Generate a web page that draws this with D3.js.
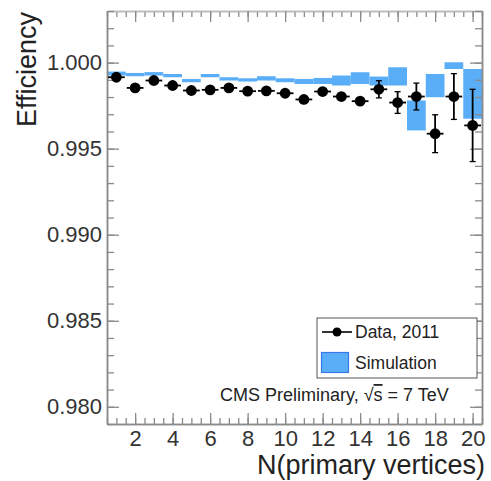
<!DOCTYPE html>
<html><head><meta charset="utf-8">
<script src="https://cdn.jsdelivr.net/npm/d3@7"></script>
<style>
html,body{margin:0;padding:0;background:#fff;}
svg{display:block;font-family:"Liberation Sans",Arial,sans-serif;}
</style></head>
<body>
<svg id="c" width="491" height="481"></svg>
<script>
// ---- data ----
const nPV = [1,2,3,4,5,6,7,8,9,10,11,12,13,14,15,16,17,18,19,20];
const dataEff = [0.99915,0.99853,0.99896,0.99867,0.99838,0.99842,0.99853,0.99834,0.99836,0.99822,
                 0.99786,0.99832,0.99803,0.99776,0.99845,0.99768,0.99803,0.99587,0.99803,0.99635];
const dataErr = [0.00012,0.00010,0.00010,0.00010,0.00010,0.00010,0.00010,0.00010,0.00012,0.00012,
                 0.00014,0.00015,0.00018,0.00025,0.00050,0.00063,0.00078,0.00110,0.00133,0.00210];
const simLow  = [0.99925,0.99921,0.99925,0.99915,0.99886,0.99915,0.99896,0.99890,0.99896,0.99886,
                 0.99876,0.99876,0.99867,0.99876,0.99867,0.99867,0.99606,0.99799,0.99963,0.99674];
const simHigh = [0.99948,0.99940,0.99945,0.99934,0.99905,0.99934,0.99915,0.99909,0.99921,0.99909,
                 0.99905,0.99911,0.99925,0.99944,0.99919,0.99973,0.99780,0.99934,1.00002,0.99963];
const yTickValues = [0.980,0.985,0.990,0.995,1.000];
const yTickLabels = ["0.980","0.985","0.990","0.995","1.000"];
const xTickValues = [2,4,6,8,10,12,14,16,18,20];
const xDomain = [0.5,20.5];
const yDomain = [0.979,1.003];
const legendLabels = ["Data, 2011","Simulation"];
const xTitle = "N(primary vertices)";
const yTitle = "Efficiency";

// ---- layout ----
const L=107, R=482, T=11, B=424;
const svg = d3.select("#c");
const x = d3.scaleLinear().domain(xDomain).range([L,R]);
const y = d3.scaleLinear().domain(yDomain).range([B,T]);
const frameCol = "#8a8a8a";
const blue = "#5aaef7";

// simulation boxes
svg.append("g").selectAll("rect").data(nPV).join("rect")
  .attr("x", d=>x(d-0.5)).attr("width", d=>x(d+0.5)-x(d-0.5))
  .attr("y", (d,i)=>y(simHigh[i])).attr("height",(d,i)=>y(simLow[i])-y(simHigh[i]))
  .attr("fill", blue);

// axes
const minorY = d3.range(0.979,1.0031,0.001).map(v=>+v.toFixed(3));
const minorX = d3.range(0.5,20.51,0.5);
function axisStyle(g){ g.select(".domain").attr("stroke",frameCol).attr("stroke-width",1.5); g.selectAll(".tick line").attr("stroke",frameCol).attr("stroke-width",1.3); }

// bottom
svg.append("g").attr("transform",`translate(0,${B})`)
  .call(d3.axisTop(x).tickValues(minorX).tickSize(6).tickFormat("").tickSizeOuter(0)).call(axisStyle);
svg.append("g").attr("transform",`translate(0,${B})`)
  .call(d3.axisTop(x).tickValues(xTickValues).tickSize(11).tickFormat("").tickSizeOuter(0)).call(axisStyle);
svg.append("g").attr("transform",`translate(0,${B})`)
  .call(d3.axisBottom(x).tickValues(xTickValues).tickSize(0).tickPadding(6).tickSizeOuter(0))
  .call(g=>{g.select(".domain").remove(); g.selectAll("text").attr("font-size",22).attr("fill","#333").attr("font-family","Liberation Sans, Arial, sans-serif");});
// top
svg.append("g").attr("transform",`translate(0,${T})`)
  .call(d3.axisBottom(x).tickValues(minorX).tickSize(6).tickFormat("").tickSizeOuter(0)).call(axisStyle)
  .call(g=>g.select(".domain").attr("stroke","#bbb"));
svg.append("g").attr("transform",`translate(0,${T})`)
  .call(d3.axisBottom(x).tickValues(xTickValues).tickSize(11).tickFormat("").tickSizeOuter(0)).call(axisStyle)
  .call(g=>g.select(".domain").attr("stroke","#bbb"));
// left
svg.append("g").attr("transform",`translate(${L},0)`)
  .call(d3.axisRight(y).tickValues(minorY).tickSize(7).tickFormat("").tickSizeOuter(0)).call(axisStyle);
svg.append("g").attr("transform",`translate(${L},0)`)
  .call(d3.axisRight(y).tickValues(yTickValues).tickSize(12).tickFormat("").tickSizeOuter(0)).call(axisStyle);
svg.append("g").attr("transform",`translate(${L},0)`)
  .call(d3.axisLeft(y).tickValues(yTickValues).tickSize(0).tickPadding(5).tickFormat((d,i)=>yTickLabels[i]).tickSizeOuter(0))
  .call(g=>{g.select(".domain").remove(); g.selectAll("text").attr("font-size",22).attr("fill","#333").attr("font-family","Liberation Sans, Arial, sans-serif");});
// right
svg.append("g").attr("transform",`translate(${R},0)`)
  .call(d3.axisLeft(y).tickValues(minorY).tickSize(7).tickFormat("").tickSizeOuter(0)).call(axisStyle);
svg.append("g").attr("transform",`translate(${R},0)`)
  .call(d3.axisLeft(y).tickValues(yTickValues).tickSize(12).tickFormat("").tickSizeOuter(0)).call(axisStyle);

// data points
const dg = svg.append("g");
nPV.forEach((d,i)=>{
  const cy = y(dataEff[i]);
  dg.append("line").attr("x1",x(d-0.5)+1).attr("x2",x(d+0.5)-1).attr("y1",cy).attr("y2",cy)
    .attr("stroke","#000").attr("stroke-width",1.8);
  const y1 = y(dataEff[i]+dataErr[i]), y2 = y(dataEff[i]-dataErr[i]);
  dg.append("line").attr("x1",x(d)).attr("x2",x(d)).attr("y1",y1).attr("y2",y2)
    .attr("stroke","#000").attr("stroke-width",1.8);
  if (y2-y1 > 12) {
    [y1,y2].forEach(yy=>dg.append("line").attr("x1",x(d)-3).attr("x2",x(d)+3).attr("y1",yy).attr("y2",yy)
      .attr("stroke","#000").attr("stroke-width",1.3));
  }
  dg.append("circle").attr("cx",x(d)).attr("cy",cy).attr("r",5.4).attr("fill","#000");
});

// legend
const lg = svg.append("g");
lg.append("rect").attr("x",317).attr("y",318).attr("width",160).attr("height",60)
  .attr("fill","#fff").attr("stroke","#555").attr("stroke-width",1);
lg.append("line").attr("x1",322).attr("x2",352).attr("y1",332).attr("y2",332).attr("stroke","#000").attr("stroke-width",1.6);
lg.append("circle").attr("cx",337).attr("cy",332).attr("r",4.5).attr("fill","#000");
lg.append("text").attr("x",355).attr("y",338).attr("font-size",17.5).attr("fill","#222").text(legendLabels[0]);
lg.append("rect").attr("x",321.5).attr("y",352.5).attr("width",27).attr("height",20)
  .attr("fill",blue).attr("stroke","#3a78e8").attr("stroke-width",1.2);
lg.append("text").attr("x",355).attr("y",369).attr("font-size",17.5).attr("fill","#222").text(legendLabels[1]);

// CMS label
const cms = svg.append("text").attr("x",220).attr("y",401).attr("font-size",18).attr("fill","#222");
cms.append("tspan").text("CMS Preliminary, √");
cms.append("tspan").attr("style","text-decoration:overline").text("s");
cms.append("tspan").text(" = 7 TeV");

// axis titles
svg.append("text").attr("x",R+3).attr("y",474).attr("text-anchor","end").attr("font-size",27)
  .attr("fill","#222").text(xTitle);
svg.append("text").attr("transform","translate(36,12) rotate(-90)").attr("text-anchor","end")
  .attr("font-size",27).attr("fill","#222").text(yTitle);
</script>
</body></html>
